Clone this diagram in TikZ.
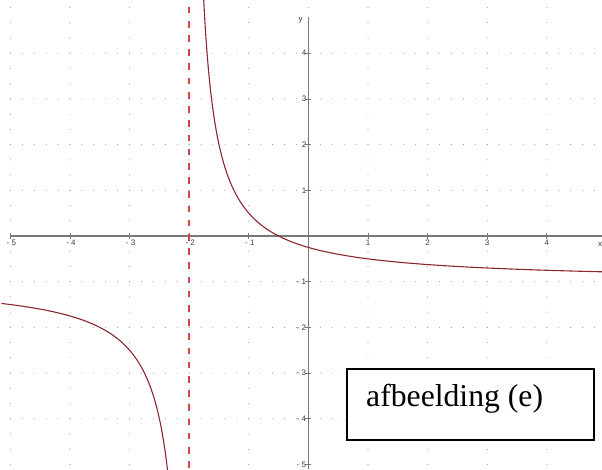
\documentclass[tikz,border=0pt]{standalone}
\usepackage{fontspec}
\usetikzlibrary{calc}
\setmainfont{Liberation Serif}
\newfontfamily\axfont{Liberation Sans}
\definecolor{curvecol}{RGB}{140,40,45}
\definecolor{asymcol}{RGB}{215,70,70}
\definecolor{axcol}{RGB}{120,120,120}
\definecolor{dotcol}{RGB}{150,150,150}
\definecolor{labcol}{RGB}{60,60,60}
\tikzset{
  axisline/.style={draw=axcol, line width=1.2pt},
  tickline/.style={draw=axcol, line width=0.8pt},
  curveline/.style={draw=curvecol, line width=1.1pt},
  asymdash/.style={fill=asymcol, draw=none},
  axlab/.style={inner sep=0pt, text=labcol, font=\axfont\fontsize{8}{9}\selectfont},
  labelbox/.style={draw=black, fill=white, line width=2pt, minimum width=247.6pt, minimum height=71pt, inner sep=0pt},
  boxtext/.style={inner sep=0pt, font=\fontsize{31.7}{38}\selectfont}
}
\begin{document}
\begin{tikzpicture}[x=59.6pt, y=45.7pt]
\useasboundingbox (-308.4pt,-233pt) rectangle (293.6pt,236pt);
\clip (-308.4pt,-233pt) rectangle (293.6pt,236pt);
% grid dots
\foreach \yy in {-4,...,4} {
  \foreach \i in {0,...,50} {
    \fill[dotcol] ({-5+0.2*\i},\yy) circle (0.55pt);
  }
}
\foreach \xx in {-5,...,5} {
  \foreach \j in {0,...,31} {
    \fill[dotcol] (\xx,{-5.333+\j/3}) circle (0.55pt);
  }
}
% axes
\coordinate (xl) at (-5,0);
\coordinate (xr) at (293.6pt,0);
\coordinate (yt) at (0,219.3pt);
\coordinate (yb) at (0,-233pt);
\draw[axisline] (xl) -- (xr);
\draw[axisline] (yt) -- (yb);
% ticks
\foreach \xx in {-5,...,4} {
  \draw[tickline] (\xx,0) ++(0,-2.5pt) -- ++(0,5.5pt);
}
\foreach \yy in {-5,...,4} {
  \draw[tickline] (0,\yy) ++(-3pt,0) -- ++(6pt,0);
}
% x labels
\foreach \xx in {-5,-4,-3,-2,-1} {
  \node[axlab, anchor=base] (xlab\xx) at ($(\xx,0)+(1pt,-9.5pt)$) {- \the\numexpr-\xx\relax};
}
\foreach \xx in {1,2,3,4} {
  \node[axlab, anchor=base] (xlab\xx) at ($(\xx,0)+(0,-9.5pt)$) {\xx};
}
\node[axlab, anchor=base] (xname) at (291.6pt,-10pt) {x};
% y labels
\foreach \yy in {1,2,3,4} {
  \node[axlab, anchor=east] (ylab\yy) at ($(0,\yy)+(-2pt,0)$) {\yy};
}
\foreach \yy in {-5,-4,-3,-2,-1} {
  \node[axlab, anchor=east] (ylab\yy) at ($(0,\yy)+(-2pt,0)$) {- \the\numexpr-\yy\relax};
}
\node[axlab, anchor=base] (yname) at (-7.7pt,214.5pt) {y};
% asymptote x = -2 (dashed)
\foreach \k in {0,...,33} {
  \fill[asymdash] ($(-2,0)+(-0.7pt,{229.3pt-\k*14.2pt})$) rectangle ++(1.4pt,-6.7pt);
}
% curve y = -1 + 1.5/(x+2)
\draw[curveline, domain=-5.15:-2.27, samples=300, smooth] plot (\x,{-1+1.5/(\x+2)});
\draw[curveline, domain=-1.76:5.1, samples=300, smooth] plot (\x,{-1+1.5/(\x+2)});
% label box
\node[labelbox, anchor=north west] (box) at (37.3pt,-132.3pt) {};
\node[boxtext, anchor=base west] (boxlabel) at (57.6pt,-170.7pt) {afbeelding (e)};
\end{tikzpicture}
\end{document}
